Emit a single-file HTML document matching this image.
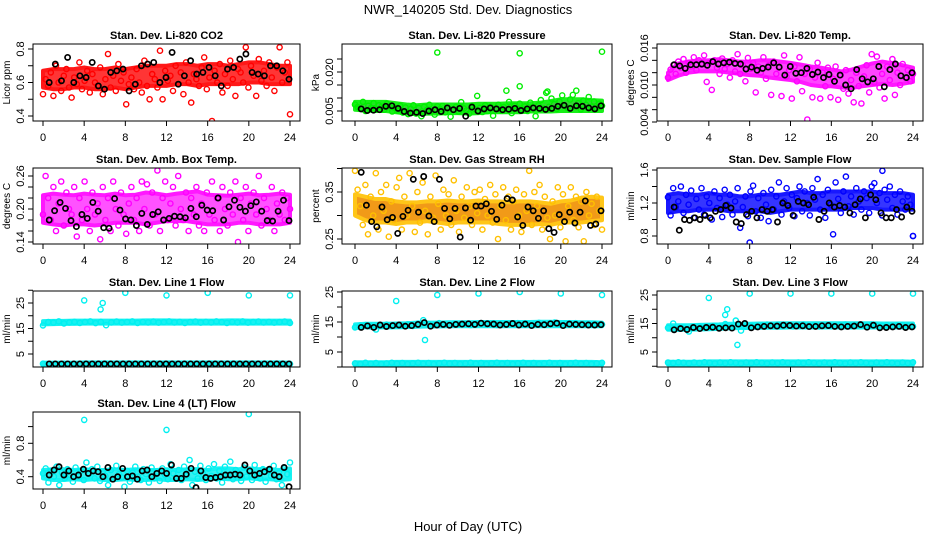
<!DOCTYPE html>
<html><head><meta charset="utf-8">
<style>
html,body{margin:0;padding:0;background:#fff;}
svg{display:block;font-family:"Liberation Sans",Arial,sans-serif;}
</style></head>
<body>
<svg id="chart" width="936" height="540" viewBox="0 0 936 540">
<text x="468" y="14" text-anchor="middle" font-size="13">NWR_140205  Std. Dev. Diagnostics</text>
<text x="468" y="531" text-anchor="middle" font-size="13">Hour of Day (UTC)</text>
</svg>
<script>
// ---------- data ----------
const xTicks = [0,4,8,12,16,20,24];

// Panel 1 CO2
const co2BandLo = [0.57,0.56,0.56,0.57,0.57,0.56,0.56,0.57,0.56,0.57,0.58,0.58,0.58,0.59,0.59,0.58,0.59,0.59,0.59,0.59,0.60,0.60,0.59,0.59,0.59];
const co2BandHi = [0.67,0.68,0.68,0.68,0.69,0.68,0.68,0.69,0.68,0.69,0.70,0.70,0.70,0.71,0.71,0.70,0.71,0.71,0.70,0.71,0.72,0.72,0.71,0.70,0.70];
const co2Cloud = [0.53,0.62,0.58,0.66,0.52,0.70,0.60,0.55,0.64,0.68,0.57,0.51,0.63,0.59,0.72,0.56,0.61,0.67,0.54,0.65,0.60,0.58,0.69,0.53,0.62,0.77,0.57,0.64,0.55,0.71,0.61,0.66,0.47,0.59,0.63,0.56,0.68,0.60,0.54,0.73,0.58,0.50,0.65,0.62,0.57,0.79,0.50,0.67,0.61,0.64,0.55,0.70,0.59,0.66,0.53,0.72,0.60,0.48,0.65,0.62,0.58,0.69,0.75,0.56,0.63,0.37,0.67,0.60,0.71,0.54,0.65,0.58,0.73,0.62,0.52,0.68,0.66,0.60,0.81,0.57,0.70,0.64,0.52,0.74,0.61,0.67,0.58,0.72,0.63,0.55,0.69,0.81,0.60,0.66,0.72,0.41];
const co2Black = [0.60,0.71,0.61,0.75,0.60,0.64,0.63,0.72,0.58,0.56,0.66,0.67,0.68,0.55,0.59,0.70,0.71,0.72,0.60,0.63,0.78,0.59,0.64,0.73,0.65,0.66,0.69,0.64,0.58,0.68,0.69,0.74,0.77,0.66,0.65,0.64,0.70,0.70,0.67,0.62];

// Panel 2 Pressure
const prsBandLo = [0.0055,0.0052,0.0050,0.0050,0.0045,0.0040,0.0038,0.0040,0.0040,0.0042,0.0042,0.0040,0.0042,0.0045,0.0045,0.0045,0.0045,0.0048,0.0048,0.0048,0.0050,0.0050,0.0050,0.0050,0.0050];
const prsBandHi = [0.0085,0.0085,0.0085,0.0085,0.0080,0.0075,0.0072,0.0075,0.0075,0.0075,0.0075,0.0075,0.0078,0.0078,0.0078,0.0080,0.0080,0.0080,0.0082,0.0088,0.0095,0.0095,0.0095,0.0092,0.0090];
const prsCloud = [0.0075,0.0065,0.0060,0.0085,0.0050,0.0070,0.0062,0.0080,0.0058,0.0072,0.0066,0.0055,0.0078,0.0068,0.0048,0.0061,0.0052,0.0070,0.0044,0.0064,0.0038,0.0058,0.0072,0.0040,0.0062,0.0030,0.0066,0.0054,0.0074,0.0050,0.0036,0.0068,0.0058,0.0070,0.0045,0.0062,0.0028,0.0055,0.0066,0.0048,0.0084,0.0060,0.0052,0.0040,0.0070,0.0058,0.0108,0.0062,0.0046,0.0072,0.0050,0.0066,0.0032,0.0060,0.0074,0.0052,0.0065,0.0128,0.0085,0.0042,0.0070,0.0060,0.0078,0.0056,0.0068,0.0050,0.0082,0.0064,0.0030,0.0072,0.0092,0.0060,0.0120,0.0066,0.0098,0.0076,0.0058,0.0086,0.0110,0.0070,0.0062,0.0094,0.0112,0.0068,0.0080,0.0056,0.0090,0.0074,0.0104,0.0066,0.0086,0.0060,0.0078,0.0070];
const prsOutX = [8,16,16,24,18.7,21.5];
const prsOutY = [0.0275,0.0272,0.0145,0.0278,0.0125,0.0128];
const prsBlack = [0.0058,0.0052,0.0053,0.0055,0.0068,0.0070,0.0060,0.0048,0.0042,0.0045,0.0040,0.0050,0.0055,0.0048,0.0062,0.0055,0.0060,0.0030,0.0065,0.0050,0.0058,0.0062,0.0058,0.0055,0.0057,0.0060,0.0052,0.0058,0.0062,0.0060,0.0056,0.0060,0.0068,0.0072,0.0060,0.0070,0.0068,0.0062,0.0058,0.0070];

// Panel 3 Li-820 Temp
const tmpBandLo = [0.0108,0.0115,0.0120,0.0122,0.0122,0.0122,0.0120,0.0118,0.0116,0.0115,0.0112,0.0110,0.0108,0.0105,0.0100,0.0098,0.0098,0.0096,0.0095,0.0098,0.0100,0.0102,0.0100,0.0102,0.0105];
const tmpBandHi = [0.0120,0.0135,0.0138,0.0140,0.0140,0.0142,0.0140,0.0138,0.0138,0.0140,0.0140,0.0138,0.0136,0.0133,0.0130,0.0128,0.0125,0.0122,0.0125,0.0130,0.0135,0.0138,0.0135,0.0132,0.0128];
const tmpCloud = [0.0112,0.0125,0.0132,0.0118,0.0138,0.0128,0.0142,0.0120,0.0136,0.0130,0.0145,0.0124,0.0140,0.0133,0.0148,0.0105,0.0136,0.0092,0.0140,0.0128,0.0118,0.0143,0.0126,0.0134,0.0112,0.0140,0.0122,0.0150,0.0118,0.0132,0.0106,0.0144,0.0126,0.0136,0.0088,0.0130,0.0120,0.0145,0.0110,0.0132,0.0084,0.0138,0.0118,0.0128,0.0082,0.0148,0.0114,0.0124,0.0078,0.0130,0.0106,0.0145,0.0090,0.0118,0.0044,0.0126,0.0080,0.0112,0.0136,0.0078,0.0120,0.0098,0.0128,0.0080,0.0110,0.0130,0.0076,0.0116,0.0094,0.0124,0.0086,0.0108,0.0072,0.0120,0.0098,0.0070,0.0114,0.0132,0.0088,0.0150,0.0104,0.0146,0.0096,0.0118,0.0078,0.0130,0.0108,0.0142,0.0084,0.0120,0.0100,0.0134,0.0112,0.0124,0.0106,0.0118];
const tmpBlack = [0.0133,0.0131,0.0127,0.0133,0.0133,0.0134,0.0132,0.0138,0.0134,0.0136,0.0137,0.0135,0.0134,0.0126,0.0129,0.0124,0.0127,0.0129,0.0136,0.0129,0.0116,0.0130,0.0119,0.0120,0.0127,0.0117,0.0121,0.0112,0.0117,0.0106,0.0116,0.0100,0.0094,0.0125,0.0110,0.0105,0.0110,0.0130,0.0097,0.0125,0.0134,0.0115,0.0112,0.0120];

// Panel 4 Amb. Box Temp
const ambBandLo = [0.175,0.172,0.170,0.172,0.172,0.170,0.172,0.175,0.175,0.175,0.172,0.175,0.178,0.178,0.178,0.175,0.172,0.172,0.172,0.175,0.175,0.172,0.172,0.172,0.175];
const ambBandHi = [0.225,0.228,0.226,0.225,0.228,0.226,0.225,0.228,0.225,0.226,0.230,0.228,0.225,0.228,0.230,0.232,0.226,0.225,0.224,0.226,0.228,0.225,0.226,0.228,0.226];
const ambCloud = [0.19,0.26,0.22,0.18,0.24,0.16,0.21,0.25,0.17,0.23,0.20,0.19,0.24,0.15,0.22,0.18,0.25,0.20,0.16,0.23,0.19,0.21,0.145,0.24,0.18,0.22,0.16,0.25,0.20,0.17,0.23,0.19,0.155,0.21,0.24,0.18,0.22,0.16,0.25,0.20,0.245,0.17,0.23,0.19,0.27,0.16,0.22,0.25,0.18,0.21,0.24,0.17,0.26,0.20,0.18,0.23,0.16,0.22,0.19,0.24,0.17,0.21,0.16,0.23,0.19,0.25,0.18,0.22,0.16,0.24,0.20,0.17,0.23,0.19,0.25,0.14,0.22,0.18,0.24,0.16,0.21,0.23,0.19,0.26,0.17,0.22,0.20,0.18,0.24,0.16,0.21,0.19,0.23,0.18,0.22,0.20];
const ambBlack = [0.180,0.197,0.212,0.201,0.179,0.168,0.190,0.183,0.212,0.196,0.166,0.165,0.219,0.198,0.182,0.180,0.170,0.192,0.172,0.190,0.195,0.180,0.183,0.187,0.186,0.184,0.201,0.186,0.207,0.198,0.197,0.220,0.180,0.204,0.216,0.203,0.196,0.206,0.213,0.196,0.179,0.178,0.196,0.216,0.179];

// Panel 5 Gas Stream RH
const rhBandLo = [0.300,0.290,0.285,0.285,0.282,0.285,0.285,0.288,0.285,0.282,0.285,0.285,0.285,0.285,0.282,0.280,0.280,0.280,0.282,0.280,0.285,0.285,0.285,0.288,0.290];
const rhBandHi = [0.345,0.340,0.335,0.335,0.330,0.328,0.328,0.330,0.330,0.332,0.330,0.330,0.332,0.330,0.330,0.328,0.330,0.330,0.328,0.325,0.330,0.332,0.338,0.340,0.338];
const rhCloud = [0.395,0.355,0.320,0.280,0.365,0.260,0.340,0.300,0.390,0.270,0.350,0.310,0.365,0.255,0.330,0.290,0.360,0.380,0.270,0.340,0.300,0.390,0.320,0.265,0.350,0.285,0.370,0.310,0.260,0.340,0.295,0.385,0.325,0.270,0.355,0.300,0.345,0.280,0.375,0.310,0.265,0.340,0.295,0.360,0.320,0.280,0.350,0.305,0.355,0.270,0.335,0.300,0.365,0.285,0.345,0.250,0.320,0.360,0.290,0.340,0.270,0.330,0.355,0.300,0.265,0.345,0.310,0.395,0.280,0.350,0.320,0.365,0.270,0.340,0.295,0.250,0.330,0.300,0.360,0.275,0.345,0.245,0.320,0.360,0.290,0.340,0.275,0.330,0.245,0.350,0.300,0.325,0.280,0.340,0.310,0.270];
const rhBlack = [0.392,0.322,0.287,0.276,0.318,0.291,0.296,0.262,0.298,0.311,0.377,0.307,0.383,0.299,0.287,0.377,0.315,0.293,0.315,0.254,0.316,0.290,0.320,0.320,0.325,0.309,0.292,0.322,0.336,0.333,0.297,0.279,0.318,0.310,0.294,0.310,0.272,0.264,0.302,0.287,0.307,0.284,0.307,0.331,0.279,0.282,0.310];

// Panel 6 Sample Flow
const sfBandLo = [1.08,1.10,1.10,1.12,1.12,1.12,1.10,1.10,1.10,1.10,1.08,1.10,1.12,1.12,1.12,1.12,1.12,1.12,1.14,1.14,1.14,1.12,1.12,1.12,1.12];
const sfBandHi = [1.30,1.32,1.30,1.30,1.32,1.30,1.30,1.28,1.28,1.30,1.30,1.30,1.32,1.34,1.32,1.32,1.34,1.34,1.34,1.34,1.34,1.32,1.32,1.32,1.30];
const sfCloud = [1.27,1.05,1.38,1.15,1.22,1.40,1.08,1.30,1.18,1.35,1.02,1.25,1.12,1.38,1.06,1.28,1.20,1.00,1.34,1.14,1.26,1.03,1.36,1.18,1.30,1.06,1.22,1.38,0.90,1.15,1.28,1.04,1.34,1.41,1.10,1.26,1.02,1.32,1.18,0.98,1.36,1.12,1.28,1.45,1.06,1.22,1.38,1.14,1.30,1.04,1.26,1.40,1.10,1.34,1.20,1.05,1.38,1.24,1.49,1.12,1.30,1.02,1.36,1.18,0.82,1.45,1.25,1.08,1.34,1.52,1.16,1.28,1.06,1.38,1.22,1.12,1.34,1.26,1.08,1.40,1.44,1.20,1.32,1.05,1.36,1.24,1.40,1.14,1.30,1.06,1.34,1.22,1.12,1.28,1.18,0.80];
const sfOutX = [8,21,24];
const sfOutY = [0.72,1.59,0.80];
const sfBlack = [1.15,0.87,1.00,0.99,1.02,1.00,1.05,1.02,1.10,1.12,1.17,1.14,0.97,0.95,1.06,1.10,1.02,1.12,1.10,1.12,0.97,1.20,1.17,1.05,1.22,1.20,1.18,1.27,1.00,1.10,1.20,1.15,1.17,1.15,1.08,1.18,1.25,1.02,1.30,1.24,1.08,1.02,1.02,1.12,1.03,1.15,1.10];

// Panel 7 Line 1 Flow
const l1High = [16.2,17.5,17.3,17.8,17.0,17.4,17.6,17.2,17.5,17.8,17.1,17.6,16.3,17.4,17.7,17.3,17.5,17.8,17.2,17.6,17.4,17.7,17.3,17.5,17.8,17.4,17.6,17.2,17.5,17.7,17.3,17.6,17.4,17.8,17.5,17.2,17.6,17.4,17.8,17.3,17.5,17.7,17.4,17.6,17.3,17.5,17.7,17.2];
const l1Low = [1.2,1.0,1.1,1.0,1.2,1.1,1.0,1.1,1.2,1.0,1.1,1.0,1.2,1.1,1.0,1.1,1.2,1.0,1.1,1.0,1.2,1.1,1.0,1.1,1.2,1.0,1.1,1.0,1.2,1.1,1.0,1.1,1.2,1.0,1.1,1.0,1.2,1.1,1.0,1.1,1.2,1.0,1.1,1.0,1.2,1.1,1.0,1.1];
const l1BandLo = [16.6,16.7,16.8,16.8,16.9,16.9,16.9,16.9,16.9,16.9,16.9,16.9,16.9,16.9,16.9,16.9,16.9,16.9,16.9,16.9,16.9,16.9,16.9,16.9,16.9];
const l1BandHi = [17.9,18.0,18.0,18.1,18.1,18.1,18.1,18.1,18.1,18.1,18.2,18.2,18.2,18.1,18.1,18.1,18.1,18.1,18.2,18.2,18.1,18.1,18.1,18.1,18.1];
const l1OutX = [4,5.6,5.8,8,12,16,20,24];
const l1OutY = [26,22.5,25,29,28,29,28,28];
const l1Black = [1.1,1.1,1.1,1.1,1.1,1.1,1.1,1.1,1.1,1.1,1.1,1.1,1.1,1.1,1.1,1.1,1.1,1.1,1.1,1.1,1.1,1.1,1.1,1.1,1.1,1.1,1.1,1.1,1.1,1.1,1.1,1.1,1.1,1.1,1.1,1.1,1.1,1.1,1.1,1.1];

// Panel 8 Line 2 Flow
const l2High = [13.2,13.8,14.0,13.5,12.5,13.9,14.1,13.6,14.0,13.8,14.2,13.7,14.5,15.6,14.3,13.9,14.6,14.2,14.0,14.4,14.2,14.5,14.0,14.3,14.6,14.2,14.4,14.0,14.5,14.2,14.4,14.6,14.1,14.4,14.3,14.7,14.2,14.5,14.8,14.2,14.5,14.3,14.6,14.2,14.4,14.1,14.3,14.2];
const l2Low = [1.2,1.0,1.4,1.1,1.3,1.0,1.2,1.4,1.1,1.3,1.0,1.2,1.4,1.1,1.3,1.0,1.2,1.4,1.1,1.3,1.0,1.2,1.4,1.1,1.3,1.0,1.2,1.4,1.1,1.3,1.0,1.2,1.4,1.1,1.3,1.0,1.2,1.4,1.1,1.3,1.0,1.2,1.4,1.1,1.3,1.0,1.2,1.4];
const l2BandLo = [13.0,13.2,13.2,13.2,13.2,13.3,13.4,13.5,13.5,13.6,13.6,13.6,13.6,13.6,13.6,13.6,13.6,13.6,13.6,13.6,13.6,13.6,13.6,13.6,13.6];
const l2BandHi = [14.2,14.4,14.4,14.4,14.5,14.6,14.8,14.8,14.8,14.9,14.9,14.9,15.0,15.0,15.0,15.0,15.0,15.0,15.1,15.1,15.0,15.0,14.9,14.9,14.8];
const l2OutX = [4,6.8,8,12,16,20,24];
const l2OutY = [22,9,24,24.5,25,24.5,24];
const l2Black = [13.2,13.7,13.2,14.0,13.5,13.8,14.0,13.6,13.8,14.2,14.8,13.6,14.0,14.2,13.9,14.2,14.3,14.4,14.2,14.6,14.4,14.3,14.0,14.2,14.5,14.0,14.3,13.8,14.2,14.1,14.4,14.6,13.8,14.3,14.2,14.1,14.0,14.0,14.1];

// Panel 9 Line 3 Flow
const l3High = [13.5,15.0,13.2,13.6,12.2,13.5,14.0,13.5,13.8,14.2,13.6,14.8,13.8,16.0,12.5,13.9,14.2,14.0,14.3,14.6,14.2,14.5,14.2,14.4,14.0,14.3,14.6,14.2,14.4,14.0,14.5,14.3,14.1,14.4,14.6,14.2,14.4,14.5,14.2,14.6,14.3,14.2,14.4,14.1,14.3,14.5,14.2,14.0];
const l3Low = [1.3,1.1,1.4,1.2,1.0,1.3,1.1,1.4,1.2,1.0,1.3,1.1,1.4,1.2,1.0,1.3,1.1,1.4,1.2,1.0,1.3,1.1,1.4,1.2,1.0,1.3,1.1,1.4,1.2,1.0,1.3,1.1,1.4,1.2,1.0,1.3,1.1,1.4,1.2,1.0,1.3,1.1,1.4,1.2,1.0,1.3,1.1,1.4];
const l3BandLo = [12.8,12.8,12.8,12.9,13.0,13.1,13.3,13.4,13.4,13.5,13.5,13.5,13.6,13.6,13.6,13.6,13.6,13.6,13.6,13.6,13.6,13.6,13.6,13.6,13.6];
const l3BandHi = [14.4,14.4,14.4,14.5,14.6,14.7,14.9,14.9,14.9,15.0,15.0,15.1,15.1,15.1,15.1,15.1,15.1,15.1,15.1,15.1,15.1,15.0,15.0,15.0,15.0];
const l3OutX = [4,5.6,5.8,6.8,8,12,16,20,24];
const l3OutY = [24,18,20,7.5,25.5,25.5,25.5,25.5,25.5];
const l3Black = [12.8,13.2,12.9,13.6,13.2,13.6,13.7,13.3,13.5,13.4,14.8,15.0,13.5,13.8,14.0,14.2,14.1,14.4,14.3,14.1,14.2,13.9,14.0,14.2,14.3,14.0,13.8,14.0,14.1,14.6,13.7,14.4,13.5,13.6,13.8,14.0,13.6,13.8];

// Low-flow band shared level for lines 1-3 (ml/min)
const lowBandLo = [0.6,0.6,0.6,0.6,0.6,0.6,0.6,0.6,0.6,0.6,0.6,0.6,0.6,0.6,0.6,0.6,0.6,0.6,0.6,0.6,0.6,0.6,0.6,0.6,0.6];
const lowBandHi = [1.6,1.6,1.6,1.6,1.7,1.7,1.7,1.7,1.7,1.7,1.7,1.7,1.7,1.7,1.7,1.7,1.7,1.7,1.7,1.7,1.7,1.7,1.7,1.7,1.6];

// Panel 10 Line 4 (LT) Flow
const l4BandLo = [0.38,0.36,0.36,0.37,0.36,0.37,0.36,0.36,0.37,0.36,0.36,0.37,0.36,0.36,0.37,0.36,0.37,0.38,0.37,0.37,0.38,0.37,0.37,0.36,0.37];
const l4BandHi = [0.48,0.49,0.49,0.48,0.49,0.48,0.48,0.49,0.48,0.49,0.48,0.48,0.49,0.48,0.49,0.49,0.48,0.50,0.50,0.49,0.50,0.49,0.49,0.48,0.50];
const l4Cloud = [0.44,0.50,0.33,0.47,0.40,0.52,0.30,0.45,0.38,0.49,0.42,0.34,0.51,0.40,0.47,0.36,0.57,0.43,0.49,0.38,0.52,0.35,0.46,0.41,0.30,0.48,0.37,0.53,0.43,0.39,0.28,0.47,0.34,0.45,0.52,0.40,0.36,0.49,0.43,0.33,0.51,0.38,0.46,0.35,0.50,0.42,0.37,0.55,0.44,0.39,0.48,0.36,0.52,0.41,0.60,0.30,0.46,0.38,0.53,0.43,0.36,0.50,0.41,0.55,0.38,0.47,0.33,0.52,0.42,0.58,0.37,0.48,0.44,0.35,0.51,0.40,0.46,0.36,0.54,0.42,0.38,0.49,0.34,0.47,0.41,0.53,0.37,0.45,0.30,0.50,0.43,0.57];
const l4OutX = [4,12,20];
const l4OutY = [1.08,0.96,1.15];
const l4Black = [0.42,0.48,0.52,0.42,0.47,0.40,0.42,0.49,0.44,0.47,0.46,0.40,0.51,0.37,0.40,0.50,0.40,0.41,0.37,0.47,0.48,0.40,0.44,0.47,0.44,0.54,0.38,0.38,0.43,0.50,0.27,0.47,0.39,0.38,0.39,0.40,0.42,0.42,0.43,0.42,0.54,0.47,0.42,0.44,0.46,0.49,0.42,0.40,0.51,0.28];

// ---------- drawing ----------
const NS = 'http://www.w3.org/2000/svg';
const svg = document.getElementById('chart');
function mk(tag, attrs, parent) {
  const e = document.createElementNS(NS, tag);
  for (const k in attrs) e.setAttribute(k, attrs[k]);
  (parent || svg).appendChild(e);
  return e;
}
const cols = [{l:33,r:300,x0:43,x24:290},{l:342,r:612,x0:355,x24:602},{l:657,r:923,x0:668,x24:913}];
const rows = [{t:44,b:121},{t:168,b:244},{t:291,b:367},{t:412,b:489}];

function makePanel(o) {
  const c = cols[o.col], r = rows[o.row];
  const g = mk('g', {});
  
  
  const xs = h => c.x0 + (h / 24) * (c.x24 - c.x0);
  const ys = v => o.py1 + (v - o.v1) * (o.py2 - o.py1) / (o.v2 - o.v1);
  const clip = 'clip-' + o.name;
  const cp = mk('clipPath', {id: clip}, g);
  mk('rect', {x: c.l, y: r.t, width: c.r - c.l, height: r.b - r.t}, cp);
  const plot = mk('g', {'clip-path': 'url(#' + clip + ')'}, g);
  
  

  const dot = (h, v, col, w, nm) => {
    const e = mk('circle', {cx: xs(h).toFixed(1), cy: ys(v).toFixed(1), r: 2.6, fill: 'none', stroke: col, 'stroke-width': w}, plot);
    
    
  };
  (o.bands || []).forEach(b => {
    const lo = b[0], hi = b[1];
    let pts = [];
    hi.forEach((v, i) => pts.push(xs(i) + ',' + ys(v)));
    for (let i = lo.length - 1; i >= 0; i--) pts.push(xs(i) + ',' + ys(lo[i]));
    const poly = mk('polygon', {points: pts.join(' '), fill: o.band || o.color, stroke: o.color, 'stroke-width': 4, 'stroke-linejoin': 'round', opacity: 0.9}, plot);
    
    
  });
  (o.clouds || []).forEach(arr => {
    const n = arr.length;
    arr.forEach((v, i) => dot(i * 24 / (n - 1), v, o.color, 1.4, o.name + '-point'));
  });
  if (o.outX) o.outX.forEach((h, i) => dot(h, o.outY[i], o.color, 1.4, o.name + '-outlier'));
  const nb = o.black.length;
  o.black.forEach((v, i) => dot(0.6 + i * 23.3 / (nb - 1), v, '#000', 1.7, o.name + '-hourly-point'));

  const box = mk('rect', {x: c.l, y: r.t, width: c.r - c.l, height: r.b - r.t, fill: 'none', stroke: '#000', 'stroke-width': 1}, g);
  
  
  const t = mk('text', {x: (c.l + c.r) / 2, y: r.t - 5, 'text-anchor': 'middle', 'font-size': 11, 'font-weight': 'bold'}, g);
  t.textContent = o.title;
  
  
  xTicks.forEach(h => {
    mk('line', {x1: xs(h), x2: xs(h), y1: r.b, y2: r.b + 5, stroke: '#000'}, g);
    const tl = mk('text', {x: xs(h), y: r.b + 20, 'text-anchor': 'middle', 'font-size': 11}, g);
    tl.textContent = h;
    
    
  });
  o.yt.forEach(v => {
    const y = ys(v);
    mk('line', {x1: c.l - 5, x2: c.l, y1: y, y2: y, stroke: '#000'}, g);
  });
  o.yl.forEach((lab, i) => {
    const y = ys(o.ylv[i]);
    const tl = mk('text', {x: c.l - 9, y: y, 'text-anchor': 'middle', 'font-size': 11, transform: 'rotate(-90 ' + (c.l - 9) + ' ' + y + ')'}, g);
    tl.textContent = lab;
    
    
  });
  const ym = (r.t + r.b) / 2, ax = c.l - 23;
  const yt = mk('text', {x: ax, y: ym, 'text-anchor': 'middle', 'font-size': 10, transform: 'rotate(-90 ' + ax + ' ' + ym + ')'}, g);
  yt.textContent = o.ylab;
  
  
}

makePanel({name:'co2',col:0,row:0,title:'Stan. Dev. Li-820 CO2',ylab:'Licor ppm',v1:0.4,py1:116,v2:0.8,py2:49,
  yt:[0.4,0.5,0.6,0.7,0.8],yl:['0.4','0.6','0.8'],ylv:[0.4,0.6,0.8],color:'#ff0000',band:'#ff2020',
  bands:[[co2BandLo,co2BandHi]],clouds:[co2Cloud],black:co2Black});
makePanel({name:'pressure',col:1,row:0,title:'Stan. Dev. Li-820 Pressure',ylab:'kPa',v1:0.005,py1:111,v2:0.020,py2:72,
  yt:[0.005,0.010,0.015,0.020,0.025],yl:['0.005','0.020'],ylv:[0.005,0.020],color:'#00ee00',band:'#22cc22',
  bands:[[prsBandLo,prsBandHi]],clouds:[prsCloud],outX:prsOutX,outY:prsOutY,black:prsBlack});
makePanel({name:'licor-temp',col:2,row:0,title:'Stan. Dev. Li-820 Temp.',ylab:'degrees C',v1:0.004,py1:122,v2:0.016,py2:48,
  yt:[0.004,0.006,0.008,0.010,0.012,0.014,0.016],yl:['0.004','0.010','0.016'],ylv:[0.004,0.010,0.016],color:'#ff00ff',band:'#ff30ff',
  bands:[[tmpBandLo,tmpBandHi]],clouds:[tmpCloud],black:tmpBlack});
makePanel({name:'amb-box-temp',col:0,row:1,title:'Stan. Dev. Amb. Box Temp.',ylab:'degrees C',v1:0.14,py1:242,v2:0.26,py2:176,
  yt:[0.14,0.16,0.18,0.20,0.22,0.24,0.26],yl:['0.14','0.20','0.26'],ylv:[0.14,0.20,0.26],color:'#ff00ff',band:'#ff40ff',
  bands:[[ambBandLo,ambBandHi]],clouds:[ambCloud],black:ambBlack});
makePanel({name:'gas-rh',col:1,row:1,title:'Stan. Dev. Gas Stream RH',ylab:'percent',v1:0.25,py1:239,v2:0.35,py2:192,
  yt:[0.25,0.30,0.35,0.40],yl:['0.25','0.35'],ylv:[0.25,0.35],color:'#ffc000',band:'#f09000',
  bands:[[rhBandLo,rhBandHi]],clouds:[rhCloud],black:rhBlack});
makePanel({name:'sample-flow',col:2,row:1,title:'Stan. Dev. Sample Flow',ylab:'ml/min',v1:0.8,py1:236,v2:1.6,py2:170,
  yt:[0.8,1.0,1.2,1.4,1.6],yl:['0.8','1.2','1.6'],ylv:[0.8,1.2,1.6],color:'#0000ff',band:'#2020ff',
  bands:[[sfBandLo,sfBandHi]],clouds:[sfCloud],outX:sfOutX,outY:sfOutY,black:sfBlack});
makePanel({name:'line1-flow',col:0,row:2,title:'Stan. Dev. Line 1 Flow',ylab:'ml/min',v1:5,py1:354,v2:25,py2:303,
  yt:[5,10,15,20,25,30],yl:['5','15','25'],ylv:[5,15,25],color:'#00f0f0',
  bands:[[l1BandLo,l1BandHi],[lowBandLo,lowBandHi]],clouds:[l1High,l1Low],outX:l1OutX,outY:l1OutY,black:l1Black});
makePanel({name:'line2-flow',col:1,row:2,title:'Stan. Dev. Line 2 Flow',ylab:'ml/min',v1:5,py1:352,v2:25,py2:292,
  yt:[0,5,10,15,20,25],yl:['5','15','25'],ylv:[5,15,25],color:'#00f0f0',
  bands:[[l2BandLo,l2BandHi],[lowBandLo,lowBandHi]],clouds:[l2High,l2Low],outX:l2OutX,outY:l2OutY,black:l2Black});
makePanel({name:'line3-flow',col:2,row:2,title:'Stan. Dev. Line 3 Flow',ylab:'ml/min',v1:5,py1:352,v2:25,py2:295,
  yt:[0,5,10,15,20,25],yl:['5','15','25'],ylv:[5,15,25],color:'#00f0f0',
  bands:[[l3BandLo,l3BandHi],[lowBandLo,lowBandHi]],clouds:[l3High,l3Low],outX:l3OutX,outY:l3OutY,black:l3Black});
makePanel({name:'line4-flow',col:0,row:3,title:'Stan. Dev. Line 4 (LT) Flow',ylab:'ml/min',v1:0.4,py1:476.7,v2:0.8,py2:443.3,
  yt:[0.4,0.6,0.8,1.0],yl:['0.4','0.8'],ylv:[0.4,0.8],color:'#00f0f0',band:'#20f0f0',
  bands:[[l4BandLo,l4BandHi]],clouds:[l4Cloud],outX:l4OutX,outY:l4OutY,black:l4Black});
</script>
</body></html>
